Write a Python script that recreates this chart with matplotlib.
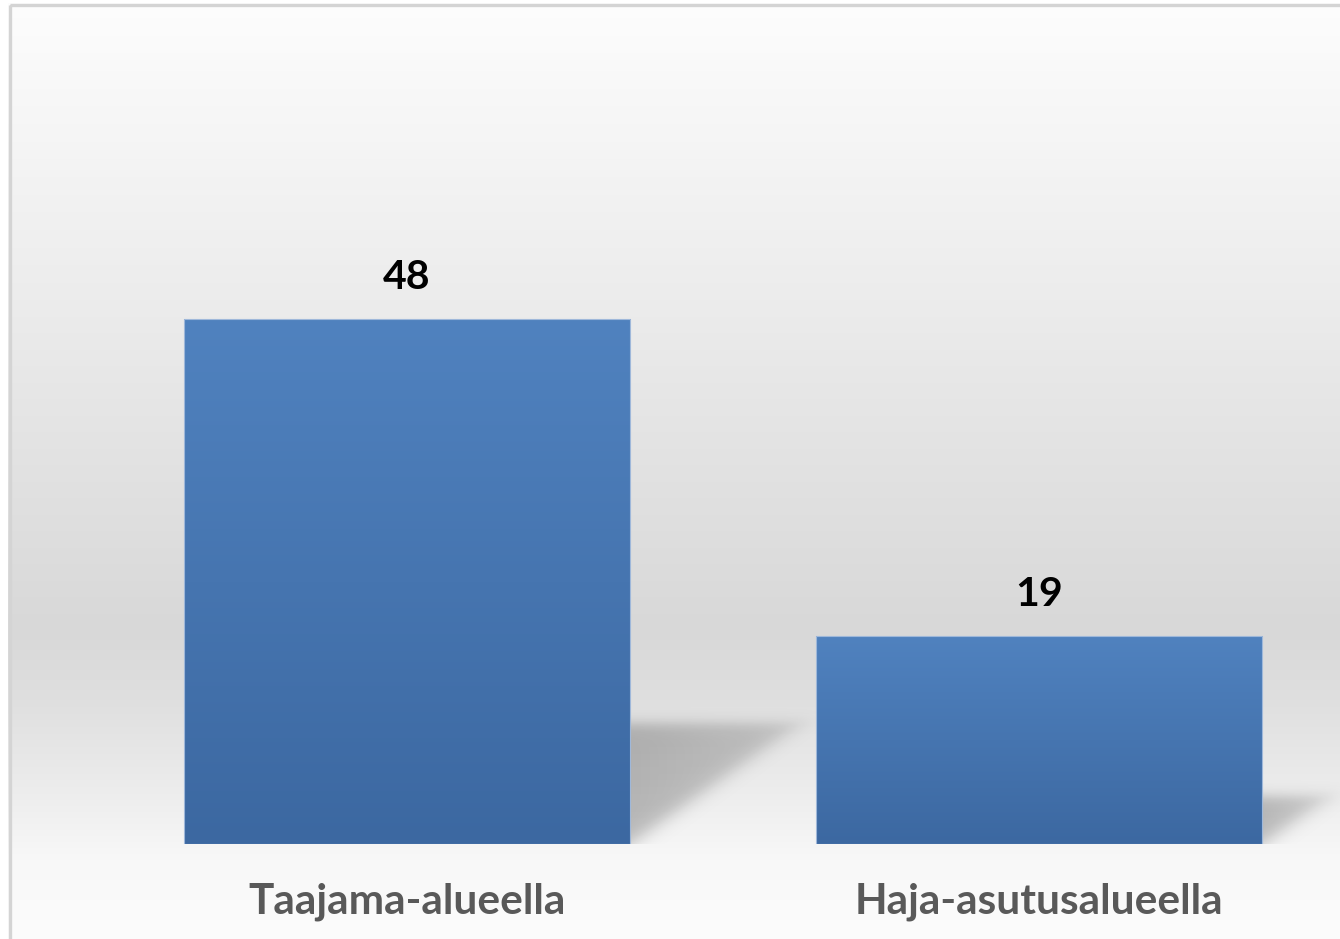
import numpy as np
import matplotlib.pyplot as plt
from matplotlib.patches import Rectangle
from matplotlib.colors import LinearSegmentedColormap

categories = ["Taajama-alueella", "Haja-asutusalueella"]
values = [48, 19]

plt.rcParams['font.family'] = ['Lato', 'DejaVu Sans']

W, H = 1340, 939
fig = plt.figure(figsize=(W / 100, H / 100), dpi=100)

# background gradient (white -> grey -> white), figure level
bg = fig.add_axes([0, 0, 1, 1], zorder=-10)
ys = np.arange(H)
grey = np.interp(ys, [0, 300, 630, 700, 800, 860, 939],
                 [253, 236, 216, 223, 238, 248, 252]) / 255.0
img = np.repeat(grey[:, None], 2, axis=1)
img = np.dstack([img, img, img])
bg.imshow(img, aspect='auto', extent=[0, W, H, 0], interpolation='bilinear')
bg.set_xlim(0, W)
bg.set_ylim(H, 0)
bg.axis('off')
bg.add_patch(Rectangle((0, 0), 8, H, color='white', lw=0))
bg.add_patch(Rectangle((0, 0), W, 3, color='white', lw=0))
bg.add_patch(Rectangle((9.5, 4.5), W + 20, H + 20, fill=False,
                       edgecolor='#d4d4d4', lw=2.4))

# plot axes placed so that the baseline sits at y=844 px
left = 91 / W
right = 1355 / W
bottom = (H - 844) / H
top = (H - 188) / H
ax = fig.add_axes([left, bottom, right - left, top - bottom])
ax.set_facecolor('none')
ax.set_xlim(-0.5, 1.5)
ax.set_ylim(0, 60)
pxx = 632.0   # px per x unit
pxy = 10.94   # px per y unit

x = np.arange(len(categories))
width = 0.706
bars = ax.bar(x, values, width=width, color='none', edgecolor='none', zorder=3)

cmap = LinearSegmentedColormap.from_list('bar', ['#3c68a1', '#5082bf'])
grad = np.linspace(0, 1, 256)[:, None]


def sig(z):
    return 1.0 / (1.0 + np.exp(-z))


for b in bars:
    bx, by = b.get_x(), b.get_y()
    bw, bh = b.get_width(), b.get_height()
    im = ax.imshow(grad, cmap=cmap, aspect='auto', origin='lower',
                   extent=[bx, bx + bw, by, by + bh], zorder=3)
    im.set_clip_path(b)
    ax.add_patch(Rectangle((bx, by), bw, bh, fill=False,
                           edgecolor='#9fb8da', lw=0.8, zorder=4))

    # soft perspective shadow to the right of each bar
    x0 = bx + bw
    T = 0.23 * bh * pxy
    D = 0.0056 * bh * pxx
    mx, my = 20, 20
    gx = np.linspace(0, D + mx, 200)
    gy = np.linspace(0, T + my, 150)
    PX, PY = np.meshgrid(gx, gy)
    d_top = T - PY
    d_diag = (D * PY - T * PX) / np.hypot(D, T)
    a = 0.24 * sig(d_top / 4.0) * sig(d_diag / 5.0)
    a *= 1 - 0.35 * PX / (D + mx)
    rgba = np.zeros(PX.shape + (4,))
    rgba[..., 3] = a
    ax.imshow(rgba, origin='lower', aspect='auto', interpolation='bilinear',
              extent=[x0, x0 + (D + mx) / pxx, 0, (T + my) / pxy], zorder=2)

    ax.annotate(f"{int(bh)}", (bx + bw / 2, bh), xytext=(0, 17),
                textcoords='offset points', ha='center', va='bottom',
                fontsize=29.5, fontweight='bold', color='black', zorder=5)

ax.set_xlim(-0.5, 1.5)
ax.set_ylim(0, 60)
ax.set_xticks(x)
ax.set_xticklabels(categories, fontsize=30.5, fontweight='bold', color='#595959')
ax.tick_params(axis='x', length=0, pad=28)
ax.set_yticks([])
for s in ax.spines.values():
    s.set_visible(False)

fig.savefig('out.png', dpi=100)
